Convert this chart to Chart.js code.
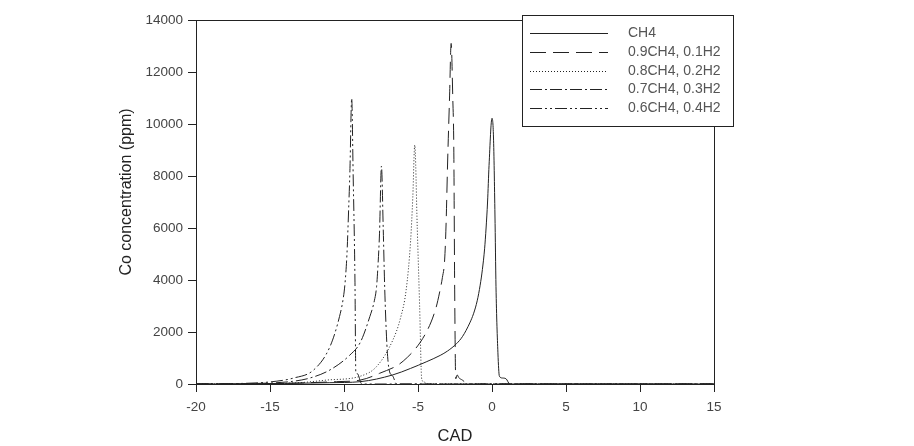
<!DOCTYPE html>
<html>
<head>
<meta charset="utf-8">
<script src="https://cdn.jsdelivr.net/npm/chart.js@4/dist/chart.umd.min.js"></script>
<style>
  html, body { margin: 0; padding: 0; background: #fff; }
  #wrap { width: 914px; height: 446px; }
</style>
</head>
<body>
<div id="wrap"><canvas id="chart" width="914" height="446"></canvas></div>
<script>
// ── Data ──
const labels = ['CH4', '0.9CH4, 0.1H2', '0.8CH4, 0.2H2', '0.7CH4, 0.3H2', '0.6CH4, 0.4H2'];

const ch4X = [-20, -17, -14, -11, -8.9, -6.7, -5.5, -4.45, -3.5, -3.0, -2.4, -2.0, -1.5, -1.25, -1.0, -0.8, -0.65, -0.5, -0.4, -0.3, -0.2, 0, 0.1, 0.2, 0.27, 0.4, 0.5, 0.7, 0.95, 1.2, 15];
const ch4Y = [0, 5, 20, 50, 90, 350, 600, 850, 1100, 1270, 1550, 1820, 2350, 2700, 3200, 3800, 4400, 5200, 6000, 7000, 8400, 10220, 9500, 6500, 3740, 1200, 300, 230, 200, 0, 0];

const h2_10X = [-20, -16, -13, -10.5, -8.9, -7.6, -6.0, -4.45, -3.8, -3.55, -3.35, -3.2, -3.1, -3.0, -2.87, -2.76, -2.65, -2.58, -2.52, -2.45, -2.35, -2.25, -2.0, -1.6, 15];
const h2_10Y = [0, 10, 40, 90, 150, 410, 880, 1980, 2900, 3500, 4100, 4770, 6200, 8500, 11000, 13100, 11000, 9000, 3500, 200, 350, 250, 150, 0, 0];

const h2_20X = [-20, -16, -13, -11.2, -8.9, -7.8, -6.7, -6.2, -5.8, -5.5, -5.35, -5.22, -5.05, -4.89, -4.75, -4.6, -4.35, 15];
const h2_20Y = [0, 10, 50, 150, 300, 670, 1690, 2500, 3620, 5500, 7200, 9190, 6000, 3000, 200, 80, 0, 0];

const h2_30X = [-20, -16, -13.5, -12.3, -10.95, -9.6, -8.9, -8.25, -7.95, -7.8, -7.7, -7.6, -7.47, -7.35, -7.25, -7.1, -6.95, -6.7, -6.45, 15];
const h2_30Y = [0, 20, 100, 230, 540, 1115, 1600, 2600, 3200, 3740, 4600, 5800, 8380, 6000, 3700, 1500, 540, 300, 0, 0];

const h2_40X = [-20, -17, -15, -13.4, -12.05, -10.95, -10.3, -10.05, -9.93, -9.8, -9.7, -9.6, -9.48, -9.38, -9.26, -9.2, -9.1, -8.8, 15];
const h2_40Y = [0, 20, 80, 230, 540, 1435, 2600, 3300, 3880, 5000, 6500, 8200, 10990, 8000, 4000, 420, 400, 0, 0];

const xTicks = [-20, -15, -10, -5, 0, 5, 10, 15];
const yTicks = [0, 2000, 4000, 6000, 8000, 10000, 12000, 14000];

const INK = '#222';
const TEXT = '#444';
const FONT = '"Liberation Sans", Arial, sans-serif';

const dashes = [[], [16, 7], [1, 2], [12, 3, 2, 3], [12, 3, 2, 3, 2, 3]];
const seriesX = [ch4X, h2_10X, h2_20X, h2_30X, h2_40X];
const seriesY = [ch4Y, h2_10Y, h2_20Y, h2_30Y, h2_40Y];

const datasets = labels.map((label, i) => ({
  label,
  data: seriesX[i].map((x, j) => ({ x, y: seriesY[i][j] })),
  borderColor: INK,
  borderWidth: 1,
  borderDash: dashes[i],
  pointRadius: 0,
  showLine: true,
  fill: false,
  cubicInterpolationMode: 'monotone',
}));

// ── Frame, y title and legend box ──
const framePlugin = {
  id: 'frame',
  afterDraw(chart) {
    const { ctx, chartArea: a } = chart;
    ctx.save();
    ctx.strokeStyle = INK;
    ctx.lineWidth = 1;
    ctx.setLineDash([]);
    ctx.strokeRect(Math.round(a.left) + 0.5, Math.round(a.top) + 0.5, Math.round(a.right - a.left), Math.round(a.bottom - a.top));

    // y axis title
    ctx.save();
    ctx.translate(127, 192);
    ctx.rotate(-Math.PI / 2);
    ctx.fillStyle = INK;
    ctx.font = '16px ' + FONT;
    ctx.textAlign = 'center';
    ctx.textBaseline = 'middle';
    ctx.fillText('Co concentration (ppm)', 0, 0);
    ctx.restore();

    // legend
    const bx = 522, by = 15, bw = 211, bh = 111;
    ctx.fillStyle = '#fff';
    ctx.fillRect(bx, by, bw, bh);
    ctx.strokeRect(bx + 0.5, by + 0.5, bw, bh);
    ctx.font = '14px ' + FONT;
    ctx.textBaseline = 'middle';
    const rows = [33, 52, 71, 89, 108];
    chart.data.datasets.forEach((ds, i) => {
      ctx.setLineDash(ds.borderDash);
      ctx.beginPath();
      ctx.moveTo(530, rows[i] + 0.5);
      ctx.lineTo(608, rows[i] + 0.5);
      ctx.stroke();
      ctx.setLineDash([]);
      ctx.fillStyle = '#555';
      ctx.fillText(ds.label, 628, rows[i]);
    });
    ctx.restore();
  }
};

new Chart(document.getElementById('chart'), {
  type: 'scatter',
  data: { datasets },
  plugins: [framePlugin],
  options: {
    responsive: false,
    animation: false,
    layout: { padding: { left: 116, right: 200, top: 20, bottom: 0 } },
    plugins: { legend: { display: false }, tooltip: { enabled: false } },
    scales: {
      x: {
        type: 'linear',
        min: -20, max: 15,
        afterFit: s => { s.height = 62; },
        afterBuildTicks: s => { s.ticks = xTicks.map(v => ({ value: v })); },
        grid: { drawOnChartArea: false, drawTicks: true, tickLength: 8, color: INK },
        border: { display: true, color: INK },
        ticks: { color: TEXT, font: { family: FONT, size: 13.5 }, padding: 7, maxRotation: 0, callback: v => String(v) },
        title: { display: true, text: 'CAD', color: INK, font: { family: FONT, size: 16.5 }, padding: 0 },
      },
      y: {
        min: 0, max: 14000,
        afterFit: s => { s.width = 80; },
        afterBuildTicks: s => { s.ticks = yTicks.map(v => ({ value: v })); },
        grid: { drawOnChartArea: false, drawTicks: true, tickLength: 8, color: INK },
        border: { display: true, color: INK },
        ticks: { color: TEXT, font: { family: FONT, size: 13.5 }, padding: 5, callback: v => String(v) },
      }
    }
  }
});
</script>
</body>
</html>
